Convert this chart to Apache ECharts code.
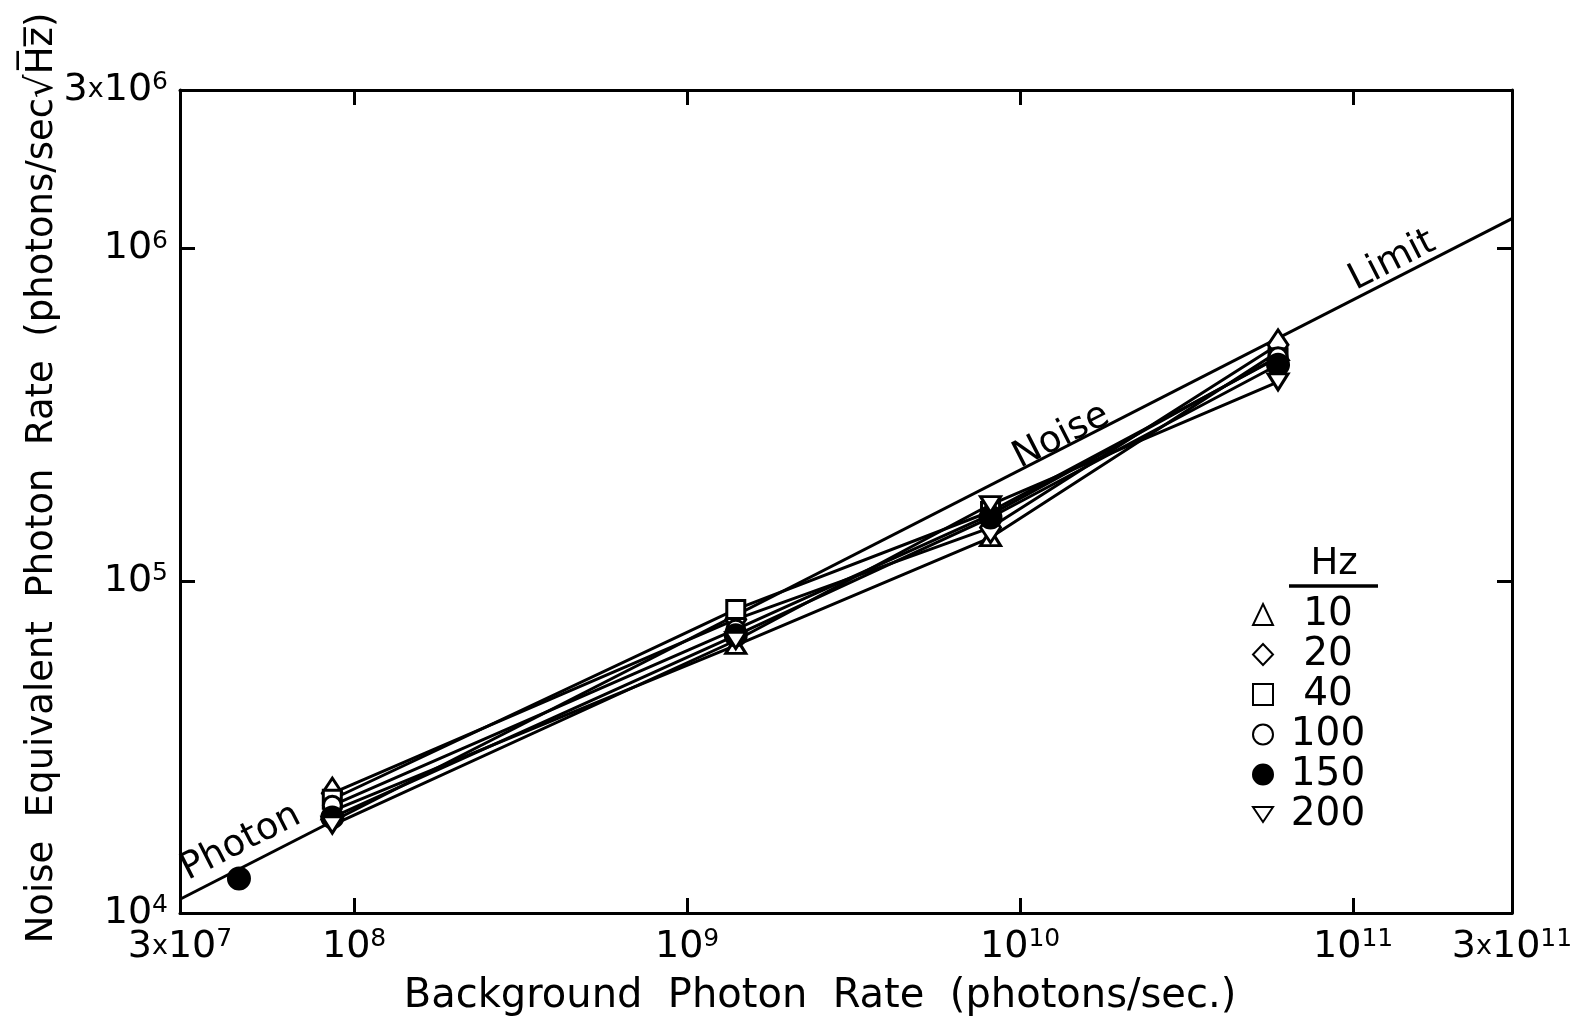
<!DOCTYPE html>
<html>
<head>
<meta charset="utf-8">
<script src="https://cdn.jsdelivr.net/npm/echarts@6/dist/echarts.min.js"></script>
<style>
  html, body { margin: 0; padding: 0; background: #fff; }
  #chart { width: 1577px; height: 1032px; }
</style>
</head>
<body>
<div id="chart"></div>
<script>
// Background photon rate (photons/sec) at each measurement
const bgRate = [8.6e7, 1.40e9, 8.15e9, 5.95e10];

// Noise equivalent photon rate (photons/sec/sqrt(Hz)) per modulation frequency
const nep10  = [2.03e4, 6.39e4, 1.349e5, 4.89e5];
const nep20  = [2.295e4, 7.65e4, 1.446e5, 5.13e5];
const nep40  = [2.20e4, 8.20e4, 1.616e5, 4.69e5];
const nep100 = [2.11e4, 7.14e4, 1.582e5, 4.72e5];
const nep150 = [1.94e4, 6.85e4, 1.55e5, 4.47e5];
const nep200 = [1.84e4, 6.61e4, 1.696e5, 3.97e5];

// Single low-background point at 150 Hz
const extra150 = [[4.51e7, 1.27e4]];

// Photon noise limit, end to end across the plot
const limitLine = [[3e7, 1.10e4], [3e11, 1.23e6]];

// Text placed along the limit line
const limitWords = [
  { name: 'Photon', value: [4.57e7, 1.63e4] },
  { name: 'Noise',  value: [1.33e10, 2.72e5] },
  { name: 'Limit',  value: [1.31e11, 9.18e5] }
];

// Axis ranges
const xRange = [3e7, 3e11];
const yRange = [1e4, 3e6];

const freqNames = ['10', '20', '40', '100', '150', '200'];
const freqData = [nep10, nep20, nep40, nep100, nep150, nep200];

const FONT = '"DejaVu Sans", "Liberation Sans", sans-serif';
const INK = '#000';

const downTri = 'path://M0,0L20,0L10,15Z';
const markerStyle = {
  '10':  { symbol: 'triangle', symbolSize: [20, 16], fill: '#fff' },
  '20':  { symbol: 'diamond',  symbolSize: [20, 30], fill: '#fff' },
  '40':  { symbol: 'rect',     symbolSize: [18, 18], fill: '#fff' },
  '100': { symbol: 'circle',   symbolSize: [18, 18], fill: '#fff' },
  '150': { symbol: 'circle',   symbolSize: [21, 21], fill: '#000' },
  '200': { symbol: downTri,    symbolSize: [20, 16], fill: '#fff' }
};

function powLabel(v) {
  const e = Math.log10(v);
  const k = Math.round(e);
  if (Math.abs(e - k) < 0.01) return '{b|10}{s|' + k + '}';
  const p = Math.floor(e);
  const m = Math.round(v / Math.pow(10, p));
  return '{b|' + m + '}{x|x}{b|10}{s|' + p + '}';
}

const labelRich = {
  b: { fontFamily: FONT, fontSize: 38, color: INK, lineHeight: 40 },
  x: { fontFamily: FONT, fontSize: 27, color: INK, lineHeight: 40 },
  s: { fontFamily: FONT, fontSize: 25, color: INK, lineHeight: 24, verticalAlign: 'top' }
};

const frameLine = { lineStyle: { color: INK, width: 3 } };
const innerTick = { inside: true, length: 15, lineStyle: { color: INK, width: 3 } };

function pairs(ys) { return bgRate.map((x, i) => [x, ys[i]]); }

const series = [];

freqData.forEach((ys, i) => {
  series.push({
    name: 'line-' + freqNames[i],
    type: 'line',
    data: pairs(ys),
    symbol: 'none',
    lineStyle: { color: INK, width: 3 },
    z: 2,
    silent: true
  });
});

series.push({
  name: 'limit',
  type: 'line',
  data: limitLine,
  symbol: 'none',
  lineStyle: { color: INK, width: 3 },
  z: 2,
  silent: true
});

freqData.forEach((ys, i) => {
  const st = markerStyle[freqNames[i]];
  series.push({
    name: freqNames[i],
    type: 'scatter',
    data: pairs(ys),
    symbol: st.symbol,
    symbolSize: st.symbolSize,
    itemStyle: { color: st.fill, borderColor: INK, borderWidth: 3, opacity: 1 },
    z: 5
  });
});

series.push({
  name: '150',
  type: 'scatter',
  data: extra150,
  symbol: 'circle',
  symbolSize: [21, 21],
  itemStyle: { color: '#000', borderColor: INK, borderWidth: 3, opacity: 1 },
  z: 5
});

series.push({
  name: 'limit-text',
  type: 'scatter',
  data: limitWords,
  symbolSize: 1,
  itemStyle: { color: 'rgba(0,0,0,0)', opacity: 1 },
  label: {
    show: true,
    position: 'inside',
    formatter: '{b}',
    rotate: 27,
    fontFamily: FONT,
    fontSize: 37,
    color: INK,
    opacity: 1,
    textBorderWidth: 0
  },
  z: 6,
  silent: true
});

const option = {
  backgroundColor: '#fff',
  animation: false,
  grid: { left: 180, right: 65, top: 90, bottom: 119, containLabel: false },
  xAxis: [
    {
      type: 'log', min: xRange[0], max: xRange[1], position: 'bottom',
      axisLine: frameLine, axisTick: innerTick,
      axisLabel: { formatter: powLabel, rich: labelRich, margin: 14, showMinLabel: true, showMaxLabel: true },
      splitLine: { show: false }, minorTick: { show: false }
    },
    {
      type: 'log', min: xRange[0], max: xRange[1], position: 'top',
      axisLine: frameLine, axisTick: innerTick,
      axisLabel: { show: false }, splitLine: { show: false }
    }
  ],
  yAxis: [
    {
      type: 'log', min: yRange[0], max: yRange[1], position: 'left',
      axisLine: frameLine, axisTick: innerTick,
      axisLabel: { formatter: powLabel, rich: labelRich, margin: 12, showMinLabel: true, showMaxLabel: true },
      splitLine: { show: false }, minorTick: { show: false }
    },
    {
      type: 'log', min: yRange[0], max: yRange[1], position: 'right',
      axisLine: frameLine, axisTick: innerTick,
      axisLabel: { show: false }, splitLine: { show: false }
    }
  ],
  legend: {
    data: freqNames,
    orient: 'vertical',
    left: 1247,
    top: 590,
    itemWidth: 20,
    itemHeight: 21,
    itemGap: 1,
    selectedMode: false,
    formatter: name => '{t|' + name + '}',
    textStyle: {
      rich: { t: { fontFamily: FONT, fontSize: 39, color: INK, width: 100, align: 'center', lineHeight: 32 } }
    }
  },
  graphic: [
    {
      type: 'text', x: 1334, y: 564,
      style: { text: 'Hz', fontFamily: FONT, fontSize: 37, fill: INK, align: 'center', verticalAlign: 'middle' }
    },
    {
      type: 'line', shape: { x1: 1289, y1: 586, x2: 1378, y2: 586 },
      style: { stroke: INK, lineWidth: 3.5 }
    },
    {
      type: 'text', x: 820, y: 997,
      style: { text: 'Background  Photon  Rate  (photons/sec.)', fontFamily: FONT, fontSize: 40, fill: INK, align: 'center', verticalAlign: 'middle' }
    },
    {
      type: 'text', x: 42, y: 478, rotation: Math.PI / 2,
      style: { text: 'Noise  Equivalent  Photon  Rate  (photons/sec\u221AH\u0305z\u0305)', fontFamily: FONT, fontSize: 37, fill: INK, align: 'center', verticalAlign: 'middle' }
    }
  ],
  series: series
};

const chart = echarts.init(document.getElementById('chart'), null, { renderer: 'canvas' });
chart.setOption(option);
</script>
</body>
</html>
